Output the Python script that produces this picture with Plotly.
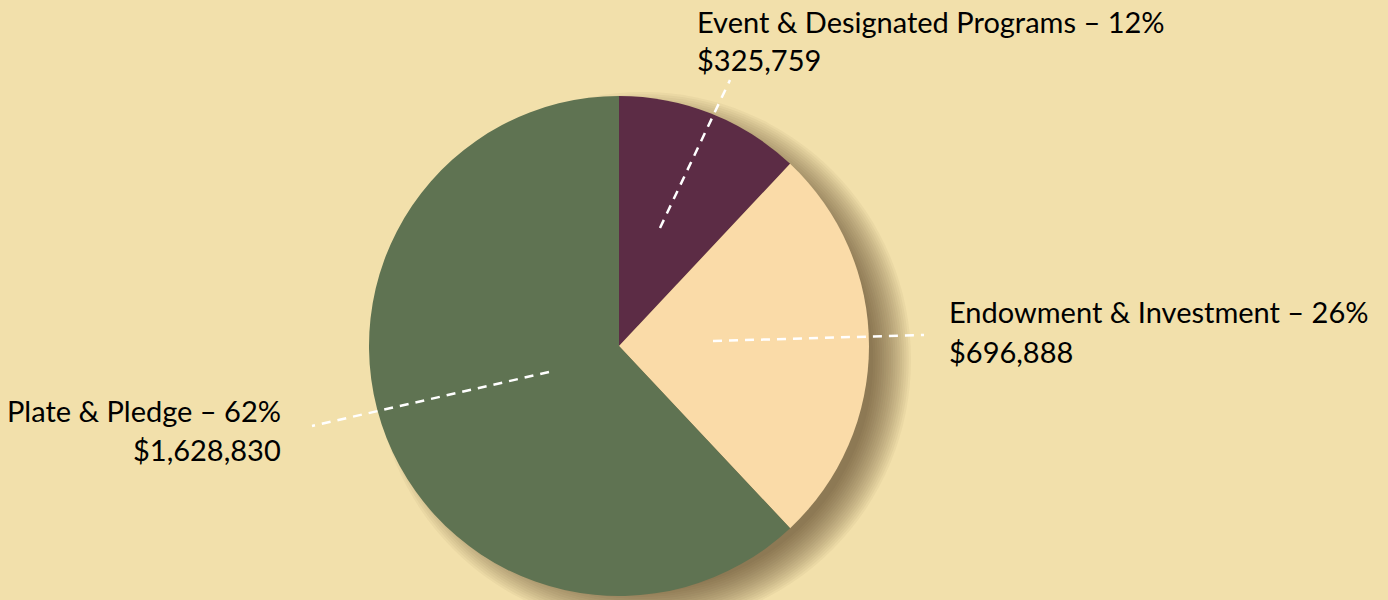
import plotly.graph_objects as go

W, H = 1388, 600

categories = ["Event & Designated Programs", "Endowment & Investment", "Plate & Pledge"]
amounts = [325759, 696888, 1628830]
pct_values = [12, 26, 62]
colors = ["#5C2C45", "#FADBA8", "#5F7352"]
bg = "#F2E0AB"

cx, cy, R = 619, 346, 250

def px(x):
    return x / W

def py(y):
    return 1 - y / H

fig = go.Figure()
fig.add_trace(go.Pie(
    labels=categories,
    values=pct_values,
    customdata=amounts,
    sort=False,
    direction="clockwise",
    rotation=0,
    marker=dict(colors=colors, line=dict(width=0)),
    textinfo="none",
    hovertemplate="%{label}<br>%{value}%<br>$%{customdata:,}<extra></extra>",
    showlegend=False,
    domain=dict(x=[px(cx - R), px(cx + R)], y=[py(cy + R), py(cy - R)]),
))

shapes = []
# soft drop shadow (offset to the lower right)
N = 18
dx, dy = 24, 14
for i in range(N):
    r = R - 22 + 40 * (i + 1) / N
    shapes.append(dict(
        type="circle", xref="paper", yref="paper", layer="below",
        x0=px(cx + dx - r), x1=px(cx + dx + r),
        y0=py(cy + dy + r), y1=py(cy + dy - r),
        fillcolor="rgba(60,45,15,0.045)", line=dict(width=0),
    ))

# leader lines
leaders = [((660, 228), (730, 80)), ((713, 341), (924, 335)), ((549, 372), (312, 426))]
for (x0, y0), (x1, y1) in leaders:
    shapes.append(dict(
        type="line", xref="paper", yref="paper", layer="above",
        x0=px(x0), y0=py(y0), x1=px(x1), y1=py(y1),
        line=dict(color="white", width=2.5, dash="9px,7px"),
    ))

font = dict(family="Lato, 'Open Sans', sans-serif", size=29, color="#000000")
label_pos = [(695, 22, 60, "left"), (947, 311, 351, "left"), (283, 410, 449, "right")]
annotations = []
for cat, pct, amt, (x, y1, y2, al) in zip(categories, pct_values, amounts, label_pos):
    for txt, yy in ((f"{cat} – {pct}%", y1), (f"${amt:,}", y2)):
        annotations.append(dict(
            text=txt, x=px(x), y=py(yy), xref="paper", yref="paper",
            xanchor=al, yanchor="middle", showarrow=False, font=font, align=al,
        ))

fig.update_layout(
    width=W, height=H,
    margin=dict(l=0, r=0, t=0, b=0),
    paper_bgcolor=bg, plot_bgcolor=bg,
    shapes=shapes, annotations=annotations,
)

fig.write_html("out.html")
